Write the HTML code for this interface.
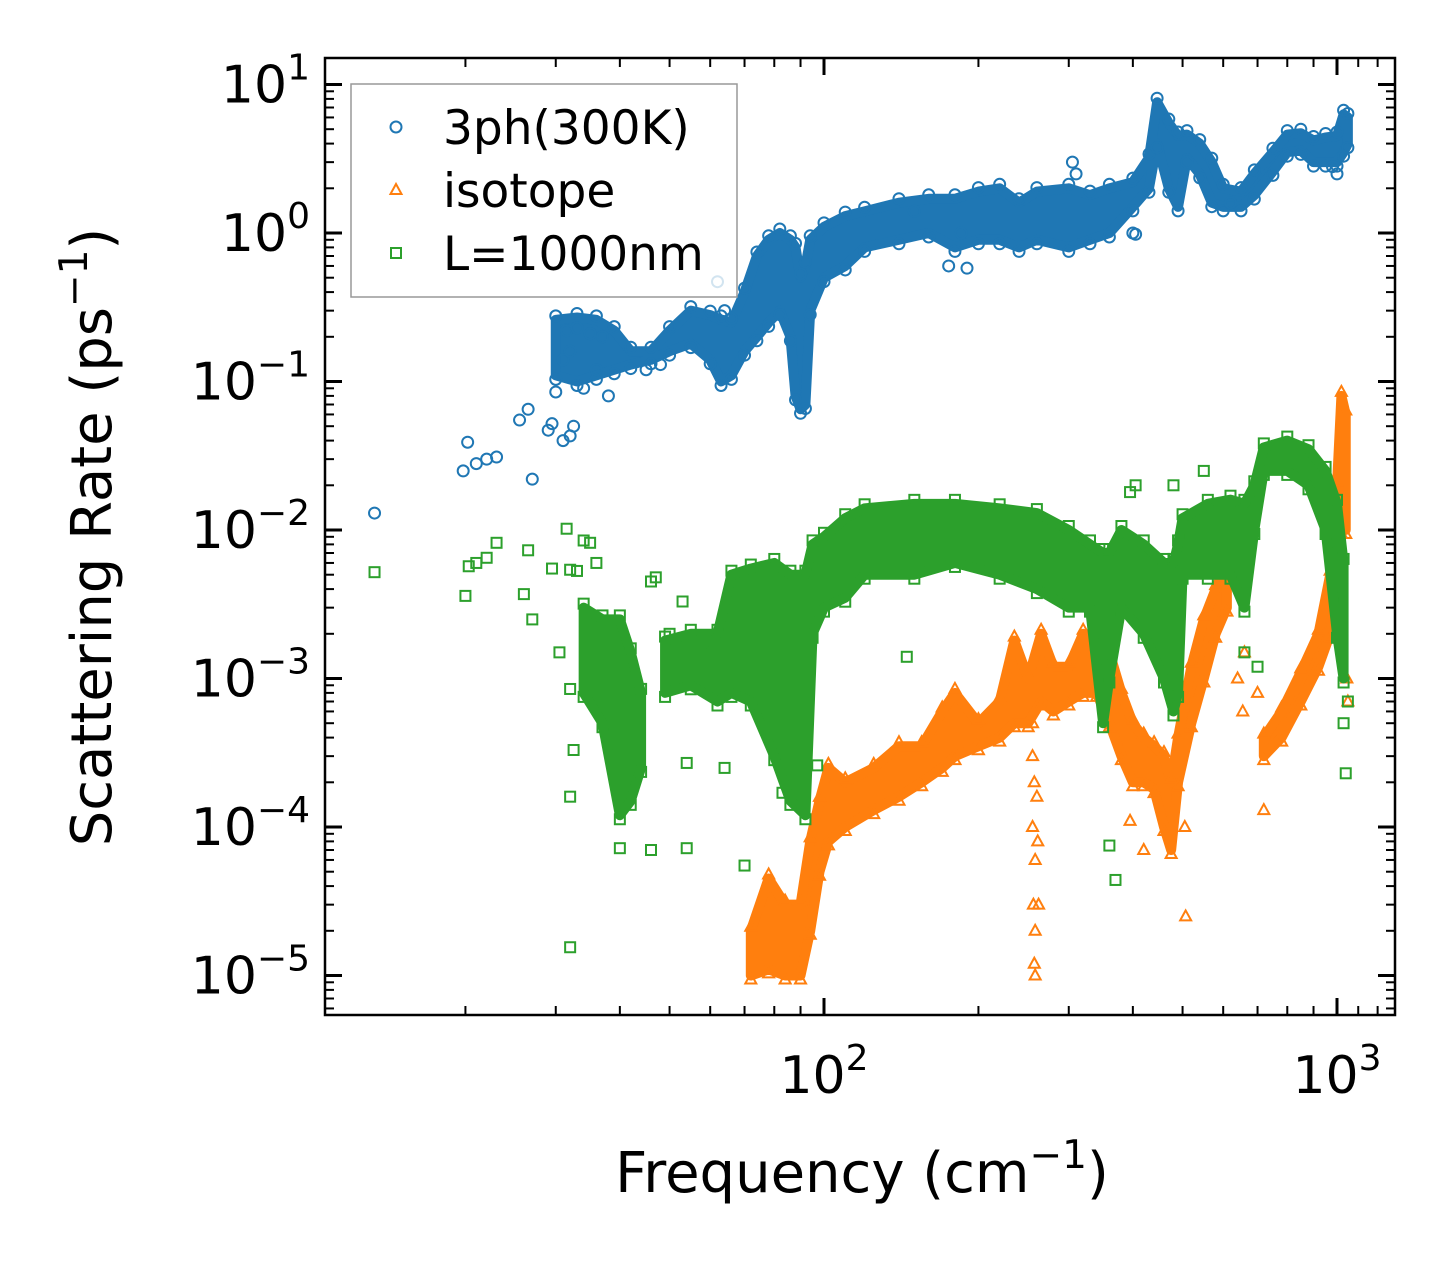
<!DOCTYPE html>
<html><head><meta charset="utf-8">
<style>
html,body{margin:0;padding:0;background:#fff;}
svg{display:block;font-family:"DejaVu Sans","Liberation Sans",sans-serif;}
</style></head>
<body>
<svg id="chart" width="1455" height="1265" viewBox="0 0 1455 1265" xmlns="http://www.w3.org/2000/svg">
<rect x="0" y="0" width="1455" height="1265" fill="#fff"/>
<g id="marks"></g>
<g id="axes"></g>
<g id="legend"></g>
</svg>
<script>
// ---- tick data ----
const xMajorTicks = [100, 1000];
const xMinorTicks = [20,30,40,50,60,70,80,90,200,300,400,500,600,700,800,900,1100,1200];
const xTickLabels = ["2", "3"];
const yMajorTicks = [10, 1, 0.1, 0.01, 0.001, 0.0001, 0.00001];
const yTickLabels = ["1", "0", "\u22121", "\u22122", "\u22123", "\u22124", "\u22125"];

// ---- 3ph(300K) series: dense band + scattered points ----
const blueBandF  = [30,33,36,39,42,46,50,55,60,63,66,70,74,78,82,86,88,90,92,94,100,110,120,140,160,180,200,220,240,260,300,330,360,400,430,446,470,490,510,540,570,600,650,690,750,800,850,900,950,1000,1030,1050];
const blueBandLo = [0.11,0.10,0.11,0.12,0.13,0.14,0.16,0.18,0.14,0.10,0.11,0.16,0.2,0.25,0.3,0.2,0.08,0.065,0.07,0.3,0.5,0.6,0.8,0.9,1.0,0.8,0.9,0.9,0.8,0.9,0.8,0.9,1.0,1.5,2.0,4.0,2.0,1.5,3.2,2.5,1.6,1.5,1.5,1.8,2.6,3.5,3.6,3.0,3.0,3.0,3.5,4.0];
const blueBandHi = [0.26,0.27,0.26,0.22,0.16,0.16,0.22,0.30,0.28,0.26,0.25,0.4,0.7,0.9,1.0,0.9,0.8,0.5,0.6,0.9,1.1,1.3,1.4,1.6,1.7,1.7,1.9,2.0,1.6,1.9,2.0,1.8,2.0,2.2,3.2,7.6,5.5,4.5,4.6,4.0,3.0,2.0,1.9,2.5,3.5,4.6,4.7,4.2,4.4,4.5,6.3,6.0];
const bluePtF = [13.3,19.8,20.2,21,22,23,25.5,26.5,27,29,29.5,30,31,32,32.5,31,31.5,32,33,34,35,36,37,38,45,48,62,64,150,175,190,305,310,400,405,620,1000,980,185];
const bluePtR = [0.013,0.025,0.039,0.028,0.03,0.031,0.055,0.065,0.022,0.047,0.052,0.085,0.04,0.043,0.05,0.14,0.22,0.16,0.23,0.09,0.21,0.12,0.2,0.08,0.12,0.13,0.47,0.3,1.4,0.6,0.58,3.0,2.5,1.0,0.98,1.6,2.5,2.8,1.0];

// ---- isotope series ----
const orgBandAF  = [72,78,84,90,94,98,102,110,125,140,155,170,180,200,220,235,250,265,280,300,320,340,360,380,400,420,440,460,475,490,520,550,580,610];
const orgBandALo = [1e-5,1.1e-5,1e-5,1e-5,2e-5,5e-5,8e-5,1e-4,1.3e-4,1.6e-4,2e-4,2.5e-4,3e-4,3.5e-4,4e-4,5e-4,5e-4,7e-4,6e-4,7e-4,8e-4,8e-4,5e-4,3e-4,2e-4,2e-4,1.8e-4,1e-4,7e-5,2e-4,5e-4,1e-3,2e-3,3e-3];
const orgBandAHi = [2e-5,4.5e-5,3e-5,3e-5,8e-5,1.5e-4,2.5e-4,2e-4,2.5e-4,3.5e-4,3.5e-4,6e-4,8e-4,5e-4,7e-4,1.8e-3,1e-3,2e-3,1.2e-3,1.2e-3,2e-3,1.6e-3,1.5e-3,8e-4,5e-4,4e-4,3.5e-4,3e-4,2e-4,4e-4,1.2e-3,2.5e-3,4e-3,6e-3];
const orgBandBF  = [720,780,850,920,970,1000,1020,1040];
const orgBandBLo = [3e-4,4e-4,7e-4,1.2e-3,2e-3,4e-3,1e-2,1e-2];
const orgBandBHi = [4e-4,6e-4,1.1e-3,2e-3,5e-3,2e-2,8e-2,6e-2];
const orgPtF = [255,255,257,255,258,256,258,257,258,260,261,262,700,720,505,507,395,640,660,655,420,1050,1045];
const orgPtR = [5e-4,3e-4,2e-4,1e-4,6e-5,3e-5,2e-5,1.2e-5,1e-5,1.6e-4,8e-5,3e-5,8e-4,1.3e-4,1e-4,2.5e-5,1.1e-4,1e-3,1.5e-3,6e-4,7e-5,7e-4,1e-3];

// ---- L=1000nm series ----
const grnBandAF  = [34,37,40,42,44];
const grnBandALo = [8e-4,5e-4,1.2e-4,1.5e-4,2.5e-4];
const grnBandAHi = [3e-3,2.5e-3,2.5e-3,1.5e-3,8e-4];
const grnBandBF  = [49,55,62,66,72,80,86,92,95,100,110,120,150,180,220,260,300,330,350,360,380,420,460,480,490,500,560,620,660,690,720,800,880,950,1000,1030];
const grnBandBLo = [8e-4,9e-4,7e-4,8e-4,7e-4,3e-4,1.5e-4,1.2e-4,2e-3,3e-3,3.5e-3,5e-3,5e-3,6e-3,5e-3,4e-3,3e-3,3e-3,5e-4,1e-3,3e-3,2e-3,1e-3,6e-4,8e-4,5e-3,5e-3,5e-3,3e-3,1e-2,2.5e-2,2.5e-2,2e-2,1e-2,2e-3,1e-3];
const grnBandBHi = [1.8e-3,2e-3,2e-3,5e-3,5.5e-3,6e-3,5e-3,5e-3,8e-3,9e-3,1.2e-2,1.4e-2,1.5e-2,1.5e-2,1.4e-2,1.3e-2,1e-2,8e-3,7e-3,7e-3,1e-2,8e-3,6e-3,6e-3,8e-3,1.2e-2,1.5e-2,1.6e-2,1.5e-2,2e-2,3.6e-2,4e-2,3.5e-2,2.5e-2,1.5e-2,6e-3];
const grnPtF = [13.3,20,20.3,21,22,23,26,26.5,27,29.5,30.5,31.5,32,32,32.5,32,32,33,34,35,36,46,47,46,40,54,50,53,54,58,64,70,83,97,145,360,370,395,405,480,550,1040,1030,1050,660,700];
const grnPtR = [0.0052,0.0036,0.0057,0.006,0.0065,0.0082,0.0037,0.0073,0.0025,0.0055,0.0015,0.0102,0.0054,8.5e-4,3.3e-4,1.6e-4,1.55e-5,0.0053,0.0085,0.0082,0.006,0.0045,0.0048,7e-5,7.2e-5,7.2e-5,0.002,0.0033,2.7e-4,0.0015,2.5e-4,5.5e-5,1.7e-4,2.6e-4,0.0014,7.5e-5,4.4e-5,0.018,0.02,0.02,0.025,2.3e-4,5e-4,7e-4,1.5e-3,1.2e-3];

// ---- axis functions ----
const PL = 325, PR = 1395, PT = 58, PB = 1015;
const X100 = 824, XDEC = 513, Y1 = 233, YDEC = 148.5;
function xs(f){ return X100 + (Math.log10(f) - 2) * XDEC; }
function ys(r){ return Y1 - Math.log10(r) * YDEC; }

const NS = "http://www.w3.org/2000/svg";
function mk(tag, attrs, parent){
  const e = document.createElementNS(NS, tag);
  for (const k in attrs) e.setAttribute(k, attrs[k]);
  parent.appendChild(e);
  return e;
}
const marks = document.getElementById('marks');
const axes = document.getElementById('axes');
const legend = document.getElementById('legend');

const BLUE = "#1f77b4", ORANGE = "#ff7f0e", GREEN = "#2ca02c";

function marker(kind, color, x, y, parent){
  let el;
  if (kind === 'o') {
    el = mk('circle', {cx:x, cy:y, r:5.5, fill:'none', stroke:color, 'stroke-width':2}, parent);
  } else if (kind === '^') {
    el = mk('polygon', {points:`${x},${y-6} ${x-5.5},${y+4} ${x+5.5},${y+4}`, fill:'none', stroke:color, 'stroke-width':2}, parent);
  } else {
    el = mk('rect', {x:x-5, y:y-5, width:10, height:10, fill:'none', stroke:color, 'stroke-width':2}, parent);
  }
  return el;
}

function drawBand(F, LO, HI, color, kind, name){
  const g = mk('g', {}, marks);
  
  
  let pts = [];
  for (let i = 0; i < F.length; i++) pts.push(xs(F[i]) + ',' + ys(HI[i]));
  for (let i = F.length - 1; i >= 0; i--) pts.push(xs(F[i]) + ',' + ys(LO[i]));
  const poly = mk('polygon', {points: pts.join(' '), fill: color, stroke: color, 'stroke-width': 10, 'stroke-linejoin':'round'}, g);
  
  
  for (let i = 0; i < F.length; i++) {
    const a = marker(kind, color, xs(F[i]), ys(HI[i]) - 4, g);
    
    
    const b = marker(kind, color, xs(F[i]), ys(LO[i]) + 4, g);
    
    
  }
}
function drawPts(F, R, color, kind, name){
  const g = mk('g', {}, marks);
  
  
  for (let i = 0; i < F.length; i++) {
    const m = marker(kind, color, xs(F[i]), ys(R[i]), g);
    
    
  }
}

drawBand(blueBandF, blueBandLo, blueBandHi, BLUE, 'o', 'three-phonon-band');
drawPts(bluePtF, bluePtR, BLUE, 'o', 'three-phonon-scatter');
drawBand(orgBandAF, orgBandALo, orgBandAHi, ORANGE, '^', 'isotope-band-low');
drawBand(orgBandBF, orgBandBLo, orgBandBHi, ORANGE, '^', 'isotope-band-high');
drawPts(orgPtF, orgPtR, ORANGE, '^', 'isotope-scatter');
drawBand(grnBandAF, grnBandALo, grnBandAHi, GREEN, 's', 'boundary-band-low');
drawBand(grnBandBF, grnBandBLo, grnBandBHi, GREEN, 's', 'boundary-band-main');
drawPts(grnPtF, grnPtR, GREEN, 's', 'boundary-scatter');

// ---- axes frame & ticks ----
const frame = mk('rect', {x:PL, y:PT, width:PR-PL, height:PB-PT, fill:'none', stroke:'#000', 'stroke-width':2.5}, axes);



function tick(x1,y1,x2,y2,w,name){
  const t = mk('line', {x1:x1, y1:y1, x2:x2, y2:y2, stroke:'#000', 'stroke-width':w}, axes);
  
  
}
xMajorTicks.forEach((v, i) => {
  const x = xs(v);
  tick(x, PB, x, PB-17, 3, 'x-major-tick');
  tick(x, PT, x, PT+17, 3, 'x-major-tick-top');
  const t = mk('text', {x:x, y:1093, 'text-anchor':'middle', 'font-size':52, fill:'#000'}, axes);
  
  
  t.innerHTML = '10<tspan dy="-23" font-size="36">' + xTickLabels[i] + '</tspan>';
});
xMinorTicks.forEach(v => {
  const x = xs(v);
  if (x > PR) return;
  tick(x, PB, x, PB-9, 2, 'x-minor-tick');
  tick(x, PT, x, PT+9, 2, 'x-minor-tick-top');
});
yMajorTicks.forEach((v, i) => {
  const y = ys(v);
  tick(PL, y, PL+17, y, 3, 'y-major-tick');
  tick(PR, y, PR-17, y, 3, 'y-major-tick-right');
  const t = mk('text', {x:310, y:y+18, 'text-anchor':'end', 'font-size':52, fill:'#000'}, axes);
  
  
  t.innerHTML = '10<tspan dy="-23" font-size="36">' + yTickLabels[i] + '</tspan>';
  for (let m = 2; m <= 9; m++) {
    const ym = ys(v * m);
    if (ym < PT || ym > PB) continue;
    tick(PL, ym, PL+9, ym, 2, 'y-minor-tick');
    tick(PR, ym, PR-9, ym, 2, 'y-minor-tick-right');
  }
  for (let m = 2; m <= 9; m++) {
    const ym = ys(v / 10 * m);
    if (v !== 0.00001 || ym > PB) continue;
    tick(PL, ym, PL+9, ym, 2, 'y-minor-tick');
    tick(PR, ym, PR-9, ym, 2, 'y-minor-tick-right');
  }
});

const xl = mk('text', {x:862, y:1192, 'text-anchor':'middle', 'font-size':56, fill:'#000'}, axes);


xl.innerHTML = 'Frequency (cm<tspan dy="-24" font-size="39">\u22121</tspan><tspan dy="24">)</tspan>';
const yl = mk('text', {x:0, y:0, 'text-anchor':'middle', 'font-size':56, fill:'#000', transform:'translate(111,537) rotate(-90)'}, axes);


yl.innerHTML = 'Scattering Rate (ps<tspan dy="-24" font-size="39">\u22121</tspan><tspan dy="24">)</tspan>';

// ---- legend ----
const lb = mk('rect', {x:351, y:84, width:386, height:213, fill:'#fff', 'fill-opacity':0.8, stroke:'#999', 'stroke-width':1.5}, legend);


const legNames = ['3ph(300K)', 'isotope', 'L=1000nm'];
const legKinds = ['o', '^', 's'];
const legColors = [BLUE, ORANGE, GREEN];
const legSlugs = ['legend-entry-3ph', 'legend-entry-isotope', 'legend-entry-boundary'];
for (let i = 0; i < 3; i++) {
  const yy = 127 + i * 63;
  const m = marker(legKinds[i], legColors[i], 396, yy, legend);
  
  
  const t = mk('text', {x:443, y:yy+17, 'font-size':47, fill:'#000'}, legend);
  
  
  t.textContent = legNames[i];
}
</script>
</body></html>
